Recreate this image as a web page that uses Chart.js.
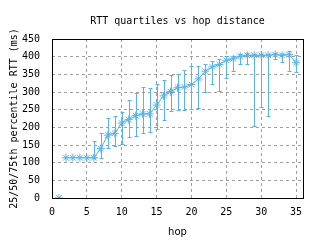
<!DOCTYPE html>
<html>
<head>
<meta charset="utf-8">
<script src="https://cdn.jsdelivr.net/npm/chart.js@4/dist/chart.umd.min.js"></script>
<style>
  html, body { margin: 0; padding: 0; background: #fff; }
  #wrap { width: 320px; height: 240px; position: relative; }
</style>
</head>
<body>
<div id="wrap"><canvas id="c" width="320" height="240"></canvas></div>
<script>
const chartTitle = 'RTT quartiles vs hop distance';
const hops = [1,2,3,4,5,6,7,8,9,10,11,12,13,14,15,16,17,18,19,20,21,22,23,24,25,26,27,28,29,30,31,32,33,34,35];
const median = [0,114,114,114,114,114,140,178,183,212,222,233,238,238,263,289,301,312,314,321,337,359,371,378,390,394,401,404,404,404,404,406,404,406,383];
const q25 = [null,null,null,null,null,114,114,141,147,152,173,175,185,187,195,222,246,248,249,252,255,300,323,303,339,359,379,379,203,258,231,394,384,359,357];
const q75 = [null,null,null,null,null,162,184,226,232,244,277,298,314,311,323,334,348,351,362,375,375,379,387,392,401,403,408,410,408,408,408,410,408,417,406];

const lineColor = '#56B4E9';
const monoFont = { family: 'DejaVu Sans Mono', size: 10 };

// error bars (25th..75th percentile) drawn through the chart scales
const errorBars = {
    id: 'errorBars',
    afterDatasetsDraw(chart) {
        const ctx = chart.ctx;
        const xs = chart.scales.x, ys = chart.scales.y;
        ctx.save();
        ctx.strokeStyle = lineColor;
        ctx.lineWidth = 1;
        hops.forEach((h, i) => {
            if (q25[i] == null || q75[i] == null) return;
            const x = Math.round(xs.getPixelForValue(h)) + 0.5;
            const y1 = Math.round(ys.getPixelForValue(q25[i])) + 0.5;
            const y2 = Math.round(ys.getPixelForValue(q75[i])) + 0.5;
            ctx.beginPath();
            ctx.moveTo(x, y1); ctx.lineTo(x, y2);
            ctx.moveTo(x - 2, y1); ctx.lineTo(x + 2, y1);
            ctx.moveTo(x - 2, y2); ctx.lineTo(x + 2, y2);
            ctx.stroke();
        });
        ctx.restore();
    },
    afterDraw(chart) {
        const a = chart.chartArea;
        const ctx = chart.ctx;
        ctx.save();
        // full black frame like gnuplot
        ctx.strokeStyle = '#000';
        ctx.lineWidth = 1;
        ctx.strokeRect(Math.round(a.left) + 0.5, Math.round(a.top) + 0.5,
            Math.round(a.right - a.left), Math.round(a.bottom - a.top));
        // title centred over the plot area
        ctx.fillStyle = '#000';
        ctx.font = '10px "DejaVu Sans Mono"';
        ctx.textAlign = 'center';
        ctx.textBaseline = 'middle';
        ctx.fillText(chartTitle, (a.left + a.right) / 2, 21);
        ctx.restore();
    }
};

new Chart(document.getElementById('c'), {
    type: 'line',
    data: {
        datasets: [{
            data: hops.map((h, i) => ({ x: h, y: median[i] })),
            borderColor: lineColor,
            backgroundColor: lineColor,
            borderWidth: 1,
            pointStyle: 'star',
            pointRadius: 4,
            pointBorderWidth: 1,
            pointBorderColor: lineColor,
            tension: 0,
            clip: 0,
            segment: {
                // hop 1 stands alone, no line to hop 2
                borderColor: c => c.p0DataIndex === 0 ? 'rgba(0,0,0,0)' : undefined
            }
        }]
    },
    options: {
        responsive: false,
        animation: false,
        devicePixelRatio: 1,
        layout: { padding: { left: 0, right: 17, top: 39, bottom: 0 } },
        plugins: {
            legend: { display: false },
            tooltip: { enabled: false },
            title: { display: false }
        },
        scales: {
            x: {
                type: 'linear',
                min: 0,
                max: 36,
                afterFit: s => { s.height = 42; },
                ticks: { stepSize: 5, includeBounds: false, color: '#000', font: monoFont, padding: 8, maxRotation: 0 },
                grid: { color: '#a0a0a0', drawTicks: false, lineWidth: 1 },
                border: { display: false, dash: [3, 3] },
                title: { display: true, text: 'hop', color: '#000', font: { family: 'DejaVu Sans', size: 10, lineHeight: 1.2 }, padding: { top: 0, bottom: 2 } }
            },
            y: {
                min: 0,
                max: 450,
                afterFit: s => { s.width = 52; },
                ticks: { stepSize: 50, color: '#000', font: monoFont, padding: 12 },
                grid: { color: '#a0a0a0', drawTicks: false, lineWidth: 1 },
                border: { display: false, dash: [3, 3] },
                title: { display: true, text: '25/50/75th percentile RTT (ms)', color: '#000', font: { family: 'DejaVu Sans Mono', size: 10, lineHeight: 1.2 }, padding: { top: 8, bottom: 0 } }
            }
        }
    },
    plugins: [errorBars]
});
</script>
</body>
</html>
